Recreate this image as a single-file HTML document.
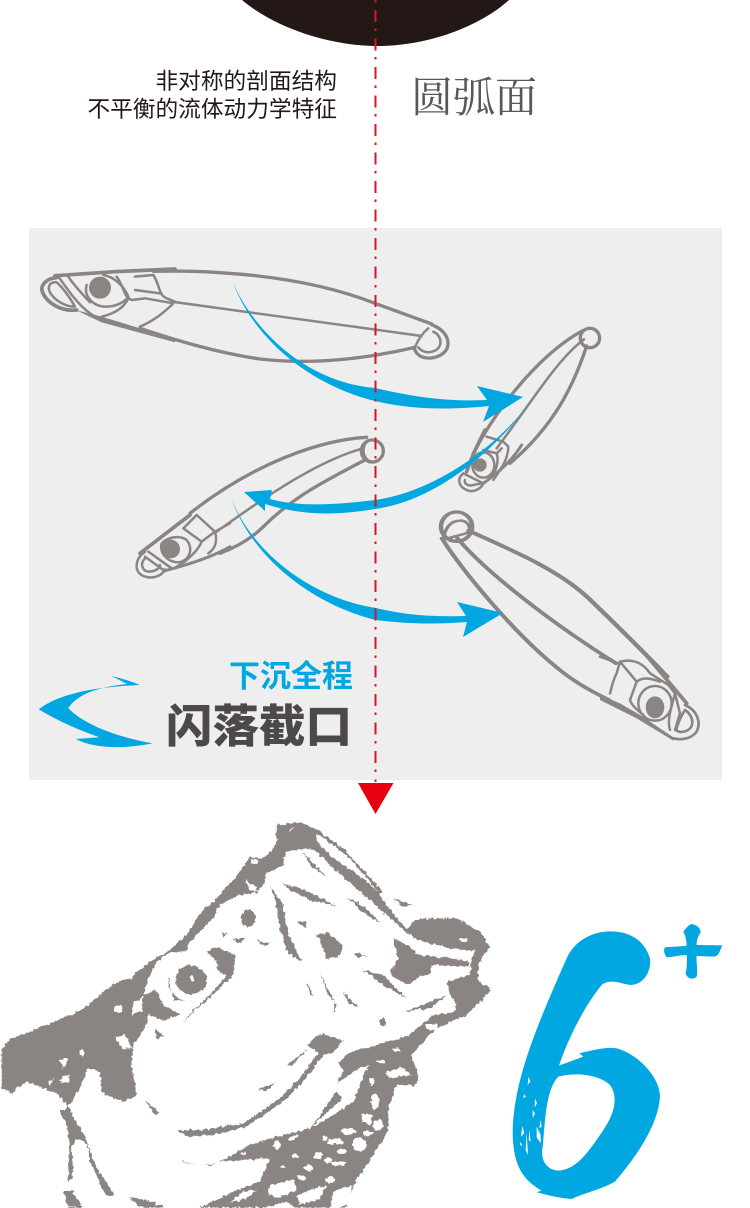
<!DOCTYPE html>
<html><head><meta charset="utf-8">
<style>
html,body{margin:0;padding:0;background:#fff;width:750px;height:1208px;overflow:hidden}
svg{display:block}
.l{fill:none;stroke:#8a8583;stroke-width:10;stroke-linejoin:round;stroke-linecap:round}
.t{stroke-width:7.5}
.h{fill:none;stroke:#8a8583;stroke-width:7.5;stroke-linejoin:round;stroke-linecap:round}
.b{fill:none;stroke:#8a8583;stroke-width:11;stroke-linejoin:round;stroke-linecap:round}
.g{fill:#8a8583;stroke:none}
</style></head><body>
<svg xmlns="http://www.w3.org/2000/svg" width="750" height="1208" viewBox="0 0 750 1208">
<defs><filter id="r" x="-5%" y="-5%" width="110%" height="110%"><feTurbulence type="fractalNoise" baseFrequency=".09" numOctaves="2" seed="4"/><feDisplacementMap in="SourceGraphic" scale="14" xChannelSelector="R" yChannelSelector="G"/></filter></defs>
<rect x="0" y="0" width="750" height="1208" fill="#fff"/>
<path d="M242 0 C275 28 330 46 378 46 C425 46 478 28 509 0 Z" fill="#231815"/>
<text x="337" y="89" text-anchor="end" font-family="'Liberation Sans','Noto Sans CJK SC',sans-serif" font-size="22.7" fill="#231815">非对称的剖面结构</text>
<text x="337" y="117" text-anchor="end" font-family="'Liberation Sans','Noto Sans CJK SC',sans-serif" font-size="22.7" fill="#231815">不平衡的流体动力学特征</text>
<text x="411" y="112" font-family="'Liberation Serif','Noto Serif CJK SC',serif" font-size="42" fill="#595757">圆弧面</text>
<rect x="29" y="228" width="693" height="552" fill="#eeeeee"/>

<!-- lure 1 -->
<g transform="translate(20 250) scale(.3333)">
<path class="l" d="M400 64 C480 62 540 64 600 68 C800 80 950 115 1065 160 L1235 222"/>
<path class="l" d="M360 235 C480 275 600 310 720 327 C850 342 1000 335 1185 292"/>
<path class="l t" d="M455 155 L1205 258"/>
<path class="l" d="M1235 224 C1265 235 1287 258 1284 285 C1280 315 1240 330 1210 322 C1195 318 1185 305 1182 292"/>
<path class="l t" d="M1225 235 C1200 255 1190 280 1185 292 M1240 245 C1265 255 1270 290 1245 302 C1225 312 1205 305 1195 292"/>
</g>
<g transform="translate(35 265) scale(.3333)">
<path class="b" d="M60 32 L240 20 L420 12"/>
<path class="b" d="M65 38 C35 40 15 60 22 80 C35 115 80 140 125 135"/>
<path class="h" d="M65 52 C40 50 35 70 50 90 C70 115 100 125 120 125 C100 90 85 70 65 52 M70 35 C100 75 130 125 180 155 M100 35 C120 65 145 90 165 112"/>
<circle class="g" cx="195" cy="68" r="33"/>
<path class="h" d="M155 60 C145 95 175 125 215 125 C245 125 270 110 280 95 C265 60 235 35 205 30"/>
<path class="h" d="M245 35 C270 70 265 95 290 105 L330 100 M300 75 L375 85 M355 30 C375 60 370 90 395 100 L420 110 M300 35 L355 30 M280 100 C265 130 240 145 200 155 M330 100 L415 115 C385 145 350 170 315 185"/>
<path d="M122 135 L200 155 L420 222 L420 232 L200 172 Z" class="g"/>
</g>

<!-- lure 2 and 3 bodies -->
<g transform="translate(120 320) scale(.3333)">
<circle class="l" cx="1410" cy="54" r="29"/>
<path class="l" d="M1388 32 C1280 90 1150 230 1060 400"/>
<path class="l" d="M1400 78 C1360 200 1300 320 1170 430"/>
<path class="l t" d="M1392 58 C1310 120 1240 240 1130 385"/>
<circle class="l" cx="757" cy="393" r="33"/>
<path class="l t" d="M752 360 C725 365 722 415 752 424"/>
<path class="l" d="M740 352 C600 360 400 430 210 580"/>
<path class="l t" d="M730 385 C600 420 450 520 290 635"/>
<path class="l" d="M735 420 C620 480 520 530 430 620 C390 660 340 685 300 700"/>
</g>
<!-- lure 3 head -->
<g transform="translate(130 500) scale(.3333)">
<path class="h" d="M45 155 C15 175 10 215 40 228 C65 238 95 230 105 208 M45 175 C30 190 35 212 55 215 C75 215 90 205 90 195 M55 155 L125 205 M45 170 L100 210"/>
<path class="b" d="M30 160 L180 45"/>
<path class="b" style="stroke-width:9" d="M105 212 C170 195 250 170 300 140"/>
<circle class="g" cx="122" cy="147" r="28"/>
<path class="h" d="M95 130 C85 160 120 195 155 185 C180 175 190 145 170 120 C150 105 115 110 95 130 M160 85 L200 45 L255 95 L215 125 L160 85 M215 125 C205 150 170 185 140 200 M255 95 C265 130 250 150 235 160 M255 95 L300 70"/>
</g>
<!-- lure 2 head -->
<g transform="translate(450 430) scale(.3333)">
<path class="h" d="M40 130 C20 145 25 170 50 180 C70 190 95 175 100 160 M45 150 C40 160 55 170 70 165 L95 160 M40 130 L100 160"/>
<circle class="g" cx="90" cy="105" r="20"/>
<ellipse class="h" cx="100" cy="105" rx="33" ry="38"/>
<path class="h" d="M110 20 L160 35 L175 50 C175 90 150 120 130 150 M100 60 L140 70 L155 55 M140 70 C150 100 130 140 115 150"/>
<path class="b" d="M105 0 C85 40 65 80 50 125"/>
<path class="b" style="stroke-width:9" d="M100 160 C140 130 180 100 215 45"/>
</g>

<!-- lure 4 body -->
<g transform="translate(20 500) scale(.4464 .3333)">
<ellipse class="l" cx="978" cy="80" rx="35" ry="44"/>
<path class="l t" d="M950 118 C950 85 965 60 990 62 C1005 65 1010 85 1005 97 C990 105 970 110 950 118"/>
<path class="l" style="stroke-width:11" d="M1005 92 C1100 150 1200 205 1270 290 C1340 380 1400 460 1450 530"/>
<path class="l" d="M945 115 C990 210 1100 390 1200 500 C1240 545 1280 575 1320 600"/>
<path class="l" d="M980 115 C1040 210 1180 360 1335 490"/>
</g>
<!-- lure 4 head -->
<g transform="translate(600 650) scale(.3333)">
<path class="b" d="M130 5 L260 160"/>
<path class="h" style="stroke-width:8" d="M255 165 C290 180 305 215 290 245 C270 270 240 270 222 265 M255 180 C285 200 285 240 250 245 C240 248 235 245 228 240 C235 215 245 195 255 180"/>
<ellipse class="g" cx="165" cy="172" rx="28" ry="33"/>
<ellipse class="h" cx="165" cy="160" rx="50" ry="52"/>
<path class="h" d="M60 35 C100 25 130 40 150 70 L205 105 M60 35 L50 70 C35 100 35 115 30 130 M60 35 L110 95 L90 150 C95 170 125 190 130 195 M110 95 C130 80 150 85 180 95 M205 105 L225 130 C215 170 200 210 210 240 M225 130 L240 190 L225 240"/>
<path d="M0 135 L60 160 L120 195 L225 265 L220 272 L110 205 L0 150 Z" class="g"/>
<path class="h" d="M0 20 L55 40"/>
</g>

<!-- blue arrows -->
<g fill="#00a7e0">
<path d="M233 283 C254 330 305 382 375 388 C410 396 445 402 487 400 L477 386 L523 397 L483 422 L489 406 C440 411 405 408 375 401 C310 385 255 340 233 283 Z"/>
<path d="M530 402 C495 450 430 493 375 500 C335 505 300 507 270 499 L272 490 L244 492 L265 511 L265 504 C300 515 335 516 375 509 C440 500 500 445 530 402 Z"/>
<path d="M231 497 C250 550 310 598 376 608 C405 615 430 617 466 616 L457 602 L503 613 L463 637 L467 622 C430 625 400 623 376 620 C310 604 250 555 231 497 Z"/>
<path d="M38.8 709.3 C60 693 96 687 139.6 685 C131 681 120 678 110.6 676 C120 680 125 683 127 684 C100 687 78 693 68.2 708.3 C87 727 122 738 152.6 743.3 C131 748 96 750 75.8 739 L99.5 737.3 C78 730 56 720 38.8 709.3 Z"/>
</g>
<text x="229" y="687" font-family="'Liberation Sans','Noto Sans CJK SC',sans-serif" font-size="31" font-weight="700" fill="#00a7e0" textLength="124" lengthAdjust="spacingAndGlyphs">下沉全程</text>
<text x="166" y="742" font-family="'Liberation Sans','Noto Sans CJK SC',sans-serif" font-size="45" font-weight="900" fill="#4c4948" textLength="186" lengthAdjust="spacingAndGlyphs">闪落截口</text>

<!-- red dash-dot -->
<line x1="375.5" y1="0" x2="375.5" y2="782" stroke="#d3162c" stroke-width="2" stroke-dasharray="12 6.5 2.5 7.5" stroke-dashoffset="18.5"/>
<path d="M358 783 H393.5 L375.5 814 Z" fill="#e60012"/>

<!-- fish -->
<g transform="translate(0 815) scale(.3333)" filter="url(#r)">
<g class="g">
<path d="M5 705 L30 672 L75 655 L130 632 L225 595 L270 565 L330 515 L420 465 L450 440 L510 405 L560 360 L600 295 L650 250 L720 170 L750 125 L790 130 L830 90 L828 30 L900 22 L955 45 L1040 110 L1148 230 L1140 240 L1190 310 L1240 360 L1220 355 L1170 310 L1110 255 L1040 195 L980 140 L940 100 L905 105 L860 108 L850 150 L815 170 L800 172 L790 210 L770 232 L715 240 L660 270 L640 310 L610 340 L570 380 L555 410 L510 412 L470 440 L445 490 L430 540 L470 525 L490 570 L540 600 L490 615 L445 600 L435 640 L400 690 L395 750 L410 840 L375 860 L340 850 L305 830 L300 770 L265 760 L235 830 L205 875 L170 835 L120 815 L80 800 L35 835 L5 820 Z"/>
<path d="M180 890 L205 875 L230 925 L255 960 L270 1010 L285 1050 L300 1075 L320 1100 L340 1140 L325 1145 L305 1120 L290 1080 L270 1040 L265 1000 L250 975 L225 975 L215 1000 L220 1060 L215 1090 L205 1100 L205 1040 L208 980 L200 930 Z"/>
<path d="M190 1130 L215 1125 L250 1178 L205 1178 Z"/>
<path d="M810 215 L850 270 L862 350 L905 440 L860 410 L840 340 L825 250 Z"/>
<path d="M845 205 L915 225 L1010 272 L940 260 L880 230 Z"/>
<path d="M905 110 L980 185 L940 160 Z"/>
<path d="M1040 245 L1100 280 L1140 325 L1085 290 Z"/>
<path d="M1180 250 L1240 272 L1205 272 Z"/>
<ellipse cx="745" cy="310" rx="22" ry="26"/>
<path d="M770 375 L810 385 L795 395 Z M700 375 L735 370 L720 385 Z M665 350 L680 355 L670 365 Z M895 320 L920 320 L915 340 Z"/>
<path d="M950 360 L985 352 L1030 395 L1020 420 L980 435 L970 400 Z"/>
<path d="M1060 412 L1105 425 L1070 425 Z"/>
<path d="M1240 320 L1270 310 L1370 310 L1440 350 L1470 395 L1430 430 L1410 405 L1350 400 L1290 385 L1240 370 L1220 345 Z"/>
<path d="M1180 370 L1220 390 L1260 420 L1360 430 L1410 440 L1410 455 L1295 450 L1290 475 L1250 490 L1230 510 L1185 490 L1170 470 L1195 430 Z"/>
<path d="M1415 425 L1470 395 L1440 440 L1432 495 L1475 525 L1410 490 Z"/>
<path d="M1090 465 L1150 480 L1220 550 L1150 510 Z"/>
<path d="M1215 590 L1340 540 L1290 580 Z"/>
<ellipse cx="573" cy="495" rx="47" ry="44"/>
<path d="M620 410 L650 395 L705 420 L700 480 L640 540 L580 590 L550 625 L575 590 L640 530 L680 480 L655 470 L650 440 Z"/>
<path d="M505 485 C500 530 530 560 580 560 L520 555 Z"/>
<path d="M465 640 L490 660 L470 675 Z"/>
<path d="M920 690 L960 655 L1030 675 L1000 715 L975 715 L900 810 L850 860 L740 935 L640 960 L560 965 L530 945 L600 945 L730 925 L840 850 L900 790 L955 715 Z"/>
<path d="M860 750 L925 700 L880 750 Z M775 822 L825 805 L800 828 Z"/>
<path d="M435 855 L478 895 L465 900 Z M445 900 L480 940 Z"/>
<path d="M960 475 L1010 570 L1000 600 L1005 560 L985 540 Z M1030 530 L1075 578 L1040 560 Z M920 505 L940 545 L925 530 Z"/>
<ellipse cx="1150" cy="622" rx="9" ry="12"/>
<path d="M1010 830 L935 935 L1030 850 Z"/>
<path d="M540 1035 L590 1050 L550 1042 Z M615 1050 L650 1045 L630 1052 Z"/>
<path d="M385 1148 L440 1155 L495 1178 L425 1178 Z"/>
<path d="M660 1040 L760 985 L850 960 L930 940 L1000 900 L1060 860 L1105 750 L1060 770 L1010 805 L1030 770 L1015 745 L1040 715 L1130 690 L1220 665 L1270 625 L1300 600 L1360 590 L1370 570 L1350 540 L1340 500 L1410 480 L1425 490 L1475 525 L1400 600 L1310 640 L1270 680 L1235 720 L1255 780 L1250 810 L1190 810 L1165 880 L1165 950 L1100 1050 L1060 1110 L1040 1178 L600 1178 L700 1130 L780 1100 L810 1030 Z"/>
</g>
<g fill="#fff">
<path d="M950 55 L1040 120 L1135 228 L1070 175 L1000 130 L950 80 Z"/>
<ellipse cx="355" cy="583" rx="14" ry="12"/>
<ellipse cx="245" cy="712" rx="6" ry="8"/>
<path d="M180 735 L205 730 L190 760 Z M185 785 L210 780 L205 805 L180 800 Z M145 800 L160 790 L150 815 Z"/>
<path d="M345 665 L375 660 L395 700 L365 700 Z"/>
<path d="M395 570 L430 545 L425 590 L395 600 Z"/>
<path d="M360 495 L410 465 L395 490 Z"/>
<path d="M870 40 L885 35 L870 48 Z"/>
<ellipse cx="763" cy="140" rx="12" ry="9"/>
<path d="M735 195 L760 210 L775 230 L750 225 Z"/>
<ellipse cx="1390" cy="375" rx="12" ry="5"/>
<path d="M1400 410 L1425 405 L1420 418 Z"/>
<path d="M1240 385 L1360 410 L1270 400 Z"/>
<ellipse cx="1295" cy="635" rx="20" ry="10"/>
<ellipse cx="1190" cy="705" rx="14" ry="5"/>
<ellipse cx="1145" cy="740" rx="12" ry="5"/>
<path d="M1155 775 L1200 755 L1235 780 L1170 790 Z"/>
<ellipse cx="1115" cy="800" rx="8" ry="12"/>
<ellipse cx="1125" cy="860" rx="12" ry="24"/>
<path d="M1085 895 L1120 900 L1110 930 L1085 920 Z"/>
<ellipse cx="1133" cy="930" rx="16" ry="16"/>
<ellipse cx="1045" cy="950" rx="22" ry="10"/>
<ellipse cx="1105" cy="955" rx="14" ry="8"/>
<ellipse cx="1005" cy="980" rx="25" ry="9"/>
<ellipse cx="975" cy="970" rx="8" ry="8"/>
<ellipse cx="1078" cy="988" rx="22" ry="20"/>
<ellipse cx="1025" cy="1008" rx="16" ry="7"/>
<ellipse cx="1015" cy="1045" rx="22" ry="8"/>
<ellipse cx="985" cy="1035" rx="12" ry="8"/>
<ellipse cx="955" cy="1022" rx="14" ry="9" transform="rotate(-30 955 1022)"/>
<ellipse cx="925" cy="1060" rx="14" ry="8"/>
<ellipse cx="885" cy="1022" rx="10" ry="8"/>
<ellipse cx="832" cy="990" rx="10" ry="14"/>
<ellipse cx="905" cy="1088" rx="12" ry="8"/>
<ellipse cx="990" cy="1095" rx="14" ry="11"/>
<ellipse cx="880" cy="968" rx="14" ry="5" transform="rotate(-25 880 968)"/>
<path d="M810 1110 L880 1095 L890 1125 L830 1150 L805 1135 Z"/>
<path d="M890 1140 L980 1110 L960 1150 L900 1170 Z"/>
<path d="M1000 1130 L1055 1110 L1050 1165 L1015 1178 L990 1178 Z"/>
<path d="M770 1185 L860 1160 L900 1185 Z"/>
<path d="M730 1130 L770 1125 L740 1150 L690 1165 Z"/>
<ellipse cx="730" cy="1015" rx="7" ry="4"/>
<ellipse cx="575" cy="490" rx="6" ry="10"/>
<ellipse cx="848" cy="1056" rx="7" ry="4"/>
</g>
</g>

<!-- 6+ -->
<g transform="translate(490 900) scale(.3333)" fill="#00a7e0">
<path fill-rule="evenodd" d="M330 97 C400 85 460 110 480 175 C485 215 460 255 420 255 C390 250 360 235 335 255 C290 310 240 400 207 497 L280 470 L268 460 C310 450 350 440 380 445 C440 460 510 530 510 590 C505 680 430 780 375 845 C330 870 280 880 245 897 C210 895 170 885 140 877 L155 872 C100 840 70 800 68 700 C70 550 130 400 230 175 C250 130 290 105 330 97 Z M205 530 C260 515 330 525 360 555 C385 590 375 640 340 690 C300 750 260 810 205 812 C170 810 150 780 158 740 C165 680 165 570 205 530 Z"/>
<path d="M605 72 C622 75 632 85 632 98 C622 110 620 125 620 135 L697 136 C690 150 688 165 675 170 L620 168 C618 185 625 215 620 230 C610 240 595 238 587 222 C590 205 592 185 590 165 C570 165 545 172 530 172 C522 160 520 150 525 142 C545 140 570 140 590 137 C590 120 585 105 580 95 C588 85 595 75 605 72 Z"/>
<path fill="#fff" d="M115 530 L121 545 L113 555 Z M102 582 L107 590 L100 595 Z M135 595 L141 610 L134 622 Z M128 630 L135 640 L128 655 Z M152 660 L155 680 L148 685 Z M97 678 L103 700 L93 710 Z M118 690 L122 725 L116 720 Z M110 700 L114 765 L107 750 Z M140 680 L152 705 L152 730 L140 712 Z M90 725 L97 735 L92 738 Z"/>
</g>
</svg>
</body></html>
